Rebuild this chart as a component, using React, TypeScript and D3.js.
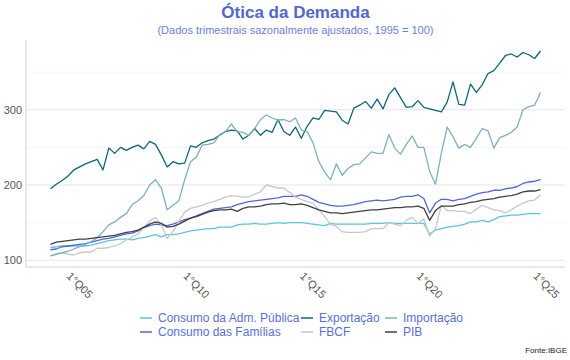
import React from "react";
import * as d3 from "d3";

const admPublica = [117,118,119,119,119,119,119,120,122,124,126,127,128,128,127,129,130,132,134,131,134,134,135,137,139,140,141,142,142,144,144,144,147,148,148,149,148,148,149,150,149,150,150,150,149,148,147,146,149,148,148,148,148,148,148,149,149,149,150,149,149,149,149,149,149,135,140,142,144,145,146,148,151,151,153,151,154,158,159,160,160,161,162,162,162];
const familias = [114,115,118,119,120,121,122,124,126,128,129,131,133,135,136,139,143,146,148,147,146,148,151,154,156,159,162,165,168,169,170,171,174,176,178,179,180,181,182,183,185,185,185,187,185,181,177,175,173,172,172,173,174,176,178,179,180,179,180,181,184,185,185,187,182,163,176,181,181,179,181,182,185,188,190,191,193,193,195,196,198,202,204,205,207];
const exportacao = [195,201,206,212,220,224,228,231,234,220,249,242,250,246,250,253,248,258,254,240,224,231,228,229,252,250,256,259,261,266,271,273,272,261,266,275,266,273,270,287,271,266,277,262,278,289,287,299,298,297,286,281,302,306,311,302,314,301,320,329,316,303,304,312,303,301,299,297,310,337,307,306,334,323,333,348,352,362,372,374,370,376,373,368,378];
const fbcf = [106,109,110,108,107,110,111,111,116,116,117,119,122,127,131,135,143,152,157,147,129,138,152,164,169,171,173,176,178,181,184,186,185,184,184,188,191,200,198,196,196,190,184,181,178,176,167,158,148,145,138,137,137,137,138,142,142,142,150,148,146,153,157,149,155,132,142,173,166,166,165,165,162,168,173,170,167,166,163,167,172,176,179,180,187];
const importacao = [106,108,110,112,115,118,121,125,130,138,147,151,157,162,174,179,186,200,207,196,167,173,179,207,231,237,253,254,256,267,271,281,271,270,266,275,287,293,289,286,287,284,289,273,271,256,231,217,207,228,213,222,227,228,236,244,242,242,267,249,241,254,265,250,250,218,201,242,277,264,249,254,250,262,275,272,249,263,266,270,277,300,304,306,323];
const pib = [121,124,125,126,127,128,128,129,130,131,132,133,135,137,138,140,144,148,151,149,144,145,148,152,156,158,161,164,166,167,167,168,165,169,171,171,172,174,175,175,176,174,174,175,173,170,167,165,163,163,162,163,164,165,166,167,167,168,169,170,170,171,171,172,169,153,166,172,172,172,174,175,177,178,180,181,182,184,185,186,188,191,192,192,194];

const seriesNames = ["Consumo da Adm. Pública", "Consumo das Famílias", "Exportação", "FBCF", "Importação", "PIB"];
const seriesValues = [admPublica, familias, exportacao, fbcf, importacao, pib];
const seriesColors = ["#58c6e0", "#5266d8", "#0b6779", "#c8c8c8", "#7db0bd", "#404040"];

const xTickIdx = [4, 24, 44, 64, 84];
const xTickLabels = ["1°Q05", "1°Q10", "1°Q15", "1°Q20", "1°Q25"];
const yTicks = [100, 200, 300];
const yMinor = [150, 250, 350];

const W = 570, H = 360;
const FONT = "'Liberation Sans', Arial, Helvetica, sans-serif";

export default function App() {
  const x = d3.scaleLinear().domain([-4.2, 88.2]).range([26, 565]);
  const y = d3.scaleLinear().domain([91.35, 391.65]).range([266.8, 40.7]);
  const line = d3.line<number>().x((_, i) => x(i)).y((d) => y(d));

  // legend layout: 3 columns x 2 rows (column-major)
  const colKeyX = [140, 301, 385];
  const rowY = [318, 332];

  return (
    <svg width={W} height={H} style={{ position: "absolute", left: 0, top: 0, background: "#fff" }} fontFamily={FONT}>
      <text x={295.5} y={18} textAnchor="middle" fontSize={17} fontWeight="bold" fill="#5168cf">Ótica da Demanda</text>
      <text x={295.5} y={34} textAnchor="middle" fontSize={11} fill="#6a7fdc">(Dados trimestrais sazonalmente ajustados, 1995 = 100)</text>

      {yMinor.map((v) => (
        <line key={"m" + v} x1={26} x2={565} y1={y(v)} y2={y(v)} stroke="#f3f3f3" strokeWidth={0.8} />
      ))}
      {yTicks.map((v) => (
        <line key={"g" + v} x1={26} x2={565} y1={y(v)} y2={y(v)} stroke="#e6e6e6" strokeWidth={1} />
      ))}
      <line x1={26} x2={26} y1={40.7} y2={267} stroke="#cfcfcf" strokeWidth={1} />
      <line x1={26} x2={565} y1={267} y2={267} stroke="#cfcfcf" strokeWidth={1} />

      {yTicks.map((v) => (
        <text key={"yt" + v} x={22} y={y(v)} dy="0.35em" textAnchor="end" fontSize={11} fill="#555">{v}</text>
      ))}
      {xTickIdx.map((idx, k) => {
        const tx = x(idx) - 2;
        const ty = 271;
        return (
          <text key={"xt" + idx} x={tx} y={ty} dy="0.75em" fontSize={11} fill="#555" transform={`rotate(45, ${tx}, ${ty})`}>
            {xTickLabels[k]}
          </text>
        );
      })}

      {seriesValues.map((vals, s) => (
        <path key={seriesNames[s]} d={line(vals) || ""} fill="none" stroke={seriesColors[s]} strokeWidth={1.3} strokeLinejoin="round" />
      ))}

      {seriesNames.map((name, s) => {
        const col = Math.floor(s / 2);
        const row = s % 2;
        const kx = colKeyX[col];
        const ky = rowY[row];
        return (
          <g key={"lg" + name}>
            <line x1={kx} x2={kx + 12} y1={ky} y2={ky} stroke={seriesColors[s]} strokeWidth={1.5} />
            <text x={kx + 18} y={ky} dy="0.35em" fontSize={12} fill="#5a6fd6">{name}</text>
          </g>
        );
      })}

      <text x={567} y={353} textAnchor="end" fontSize={8} fill="#222">Fonte:IBGE</text>
    </svg>
  );
}
